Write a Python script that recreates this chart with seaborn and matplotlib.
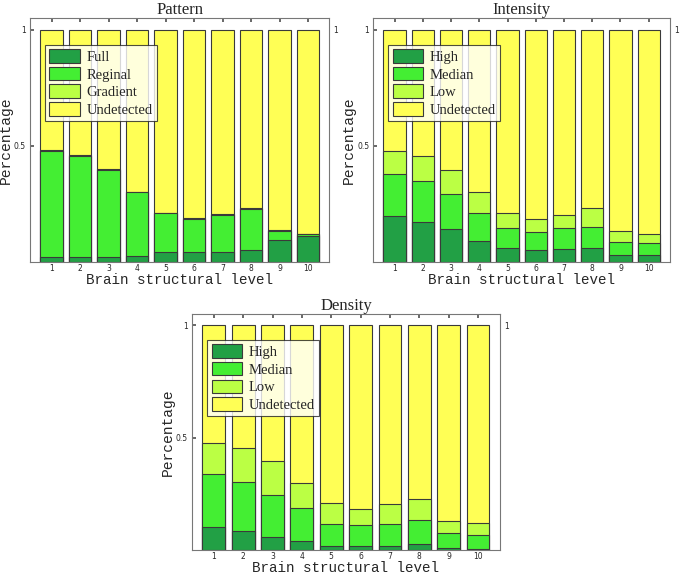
import numpy as np
import pandas as pd
import matplotlib
matplotlib.use("Agg")
import matplotlib.pyplot as plt
import seaborn as sns
from matplotlib.patches import Patch

sns.set_theme(style="white")

levels = [str(i) for i in range(1, 11)]

# Pattern
pattern_labels = ["Full", "Reginal", "Gradient", "Undetected"]
pattern_full = [0.020, 0.020, 0.023, 0.027, 0.044, 0.044, 0.044, 0.050, 0.093, 0.110]
pattern_reginal = [0.459, 0.436, 0.373, 0.272, 0.165, 0.142, 0.159, 0.179, 0.041, 0.010]
pattern_gradient = [0.002, 0.002, 0.002, 0.002, 0.002, 0.002, 0.002, 0.002, 0.002, 0.002]

# Intensity
intensity_labels = ["High", "Median", "Low", "Undetected"]
intensity_high = [0.199, 0.174, 0.140, 0.089, 0.061, 0.050, 0.054, 0.061, 0.031, 0.029]
intensity_median = [0.180, 0.176, 0.154, 0.120, 0.083, 0.077, 0.090, 0.090, 0.056, 0.054]
intensity_low = [0.098, 0.106, 0.102, 0.090, 0.065, 0.059, 0.060, 0.079, 0.047, 0.036]

# Density
density_labels = ["High", "Median", "Low", "Undetected"]
density_high = [0.102, 0.082, 0.056, 0.039, 0.019, 0.019, 0.019, 0.026, 0.009, 0.004]
density_median = [0.235, 0.219, 0.190, 0.147, 0.095, 0.090, 0.095, 0.109, 0.064, 0.061]
density_low = [0.139, 0.151, 0.148, 0.112, 0.093, 0.074, 0.089, 0.091, 0.056, 0.053]

colors = ["#22A045", "#44EE33", "#BBFF44", "#FFFF55"]
edge = "#3a3a3a"

serif = "Liberation Serif"
mono = "Liberation Mono"


def panel(fig, rect, title, labels, s1, s2, s3):
    ax = fig.add_axes(rect)
    s1 = np.array(s1); s2 = np.array(s2); s3 = np.array(s3)
    cums = [np.ones(10), s1 + s2 + s3, s1 + s2, s1]
    cols = [colors[3], colors[2], colors[1], colors[0]]
    for vals, c in zip(cums, cols):
        df = pd.DataFrame({"level": levels, "value": vals})
        sns.barplot(data=df, x="level", y="value", ax=ax, color=c,
                    width=0.78, edgecolor=edge, linewidth=0.8,
                    saturation=1, errorbar=None)
    ax.set_xlim(-0.75, 9.75)
    ax.set_ylim(0, 1.05)
    ax.set_yticks([0.5, 1.0])
    ax.set_yticklabels(["0.5", "1"])
    ax.tick_params(axis="both", labelsize=5.5, length=3, direction="in",
                   top=True, right=True, pad=3, color="#555555")
    ax.tick_params(axis="x", pad=1.5)
    for sp in ax.spines.values():
        sp.set_color("#777777")
        sp.set_linewidth(0.8)
    ax.set_xlabel("Brain structural level", fontfamily=mono, fontsize=10.3, labelpad=0)
    ax.set_ylabel("Percentage", fontfamily=mono, fontsize=10.5, labelpad=0.5)
    ax.set_title(title, fontfamily=serif, fontsize=12, pad=3)
    # right side label "1"
    ax2 = ax.twinx()
    ax2.set_ylim(0, 1.05)
    ax2.set_yticks([1.0])
    ax2.set_yticklabels(["1"])
    ax2.tick_params(axis="y", labelsize=5.5, length=0, pad=3)
    ax2.grid(False)
    for sp in ax2.spines.values():
        sp.set_visible(False)
    handles = [Patch(facecolor=c, edgecolor=edge, linewidth=0.8) for c in colors]
    leg = ax.legend(handles, labels, loc="upper left", bbox_to_anchor=(0.05, 0.89),
                    prop={"family": serif, "size": 10.5}, frameon=True, fancybox=False,
                    handlelength=2.1, handleheight=1.05, handletextpad=0.45,
                    labelspacing=0.2, borderpad=0.3, borderaxespad=0)
    leg.get_frame().set_edgecolor("#222222")
    leg.get_frame().set_linewidth(0.8)
    return ax


fig = plt.figure(figsize=(6.85, 5.77), dpi=100)
fig.patch.set_facecolor("white")

panel(fig, [0.044, 0.546, 0.437, 0.423], "Pattern", pattern_labels,
      pattern_full, pattern_reginal, pattern_gradient)
panel(fig, [0.545, 0.546, 0.433, 0.423], "Intensity", intensity_labels,
      intensity_high, intensity_median, intensity_low)
panel(fig, [0.280, 0.047, 0.450, 0.409], "Density", density_labels,
      density_high, density_median, density_low)

fig.savefig("out.png", dpi=100, facecolor="white")
